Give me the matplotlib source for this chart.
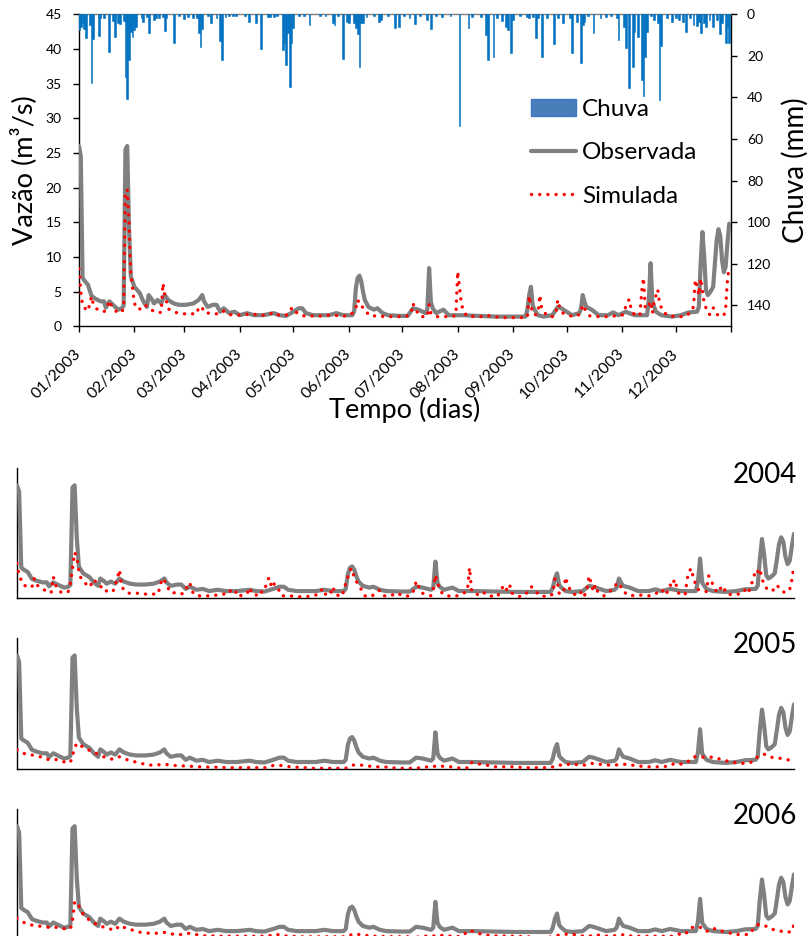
import matplotlib
matplotlib.use("Agg")
import matplotlib.pyplot as plt
from matplotlib.lines import Line2D
from matplotlib.patches import Patch
from matplotlib.transforms import ScaledTranslation

plt.rcParams['font.family'] = ['Lato', 'DejaVu Sans']

# ---------------- data ----------------
month_labels = ['01/2003', '02/2003', '03/2003', '04/2003', '05/2003', '06/2003',
                '07/2003', '08/2003', '09/2003', '10/2003', '11/2003', '12/2003']
month_start = [0, 31, 59, 90, 120, 151, 181, 212, 243, 273, 304, 334, 365]
year_labels = ['2004', '2005', '2006']

# daily rainfall (mm), day of year / depth
rain_day = [0, 1, 2, 3, 4, 6, 7, 8, 11, 12, 14, 17, 19, 20, 22, 23, 25, 26, 27, 28,
            29, 30, 31, 32, 35, 36, 38, 39, 42, 43, 45, 47, 48, 49, 53, 56, 59, 61, 64,
            66, 67, 68, 69, 72, 74, 77, 79, 80, 82, 84, 86, 88, 93, 95, 99, 102, 106,
            107, 109, 111, 114, 115, 116, 117, 118, 119, 120, 123, 126, 129, 135, 138,
            142, 143, 145, 148, 150, 151, 154, 155, 156, 157, 158, 159, 161, 165, 168,
            169, 173, 177, 179, 182, 185, 188, 191, 195, 197, 200, 203, 208, 213, 218,
            220, 225, 228, 229, 232, 234, 237, 239, 240, 242, 243, 247, 251, 252, 254,
            256, 257, 259, 262, 266, 268, 271, 275, 276, 279, 281, 282, 283, 285, 288,
            292, 295, 298, 301, 302, 305, 306, 308, 310, 311, 313, 315, 316, 317, 318,
            320, 322, 324, 325, 326, 329, 332, 334, 336, 338, 340, 342, 344, 346, 347,
            348, 350, 351, 353, 355, 357, 359, 360, 362, 363, 364]
rain_mm = [7.5, 6.0, 4.0, 7.2, 11.5, 5.0, 32.8, 12.0, 10.4, 2.0, 2.0, 18.2, 3.0, 10.7,
           4.3, 4.6, 3.0, 30.0, 40.5, 22.0, 8.3, 10.7, 7.5, 5.9, 2.0, 3.5, 1.5, 9.0,
           2.7, 2.0, 2.0, 1.5, 7.8, 2.0, 14.0, 1.0, 2.4, 1.1, 2.0, 2.0, 9.0, 15.5, 7.2,
           1.0, 4.0, 2.0, 13.0, 22.2, 1.5, 0.8, 0.8, 0.6, 0.8, 3.5, 4.0, 16.6, 1.5, 1.5,
           1.5, 0.8, 17.4, 13.9, 24.3, 9.0, 35.0, 13.9, 6.7, 0.8, 0.6, 5.1, 0.8, 0.6,
           4.3, 5.1, 1.0, 21.6, 3.5, 4.0, 4.3, 6.7, 9.4, 25.1, 4.0, 4.0, 1.5, 0.8, 3.5,
           2.7, 0.6, 6.7, 5.9, 0.8, 1.9, 4.6, 0.8, 2.7, 7.2, 0.8, 1.1, 0.8, 53.6, 6.7,
           1.1, 1.1, 9.9, 22.2, 20.3, 1.9, 3.0, 5.9, 7.5, 18.4, 2.7, 0.8, 1.1, 1.9, 1.5,
           11.5, 1.9, 20.3, 1.9, 14.2, 1.9, 4.3, 1.9, 18.4, 3.5, 23.2, 5.1, 3.5, 1.0,
           9.0, 1.9, 1.5, 0.8, 1.9, 12.3, 5.9, 16.3, 35.5, 25.1, 8.3, 10.7, 31.5, 39.5,
           20.6, 8.3, 1.0, 2.7, 4.3, 41.4, 15.2, 1.9, 3.5, 1.9, 2.7, 3.5, 8.3, 1.9, 5.1,
           5.6, 3.5, 8.8, 4.3, 6.2, 2.7, 5.9, 2.7, 9.4, 4.3, 13.9, 5.9, 13.6]

# observed discharge (m3/s)
obs_day = [0, 1, 2, 3, 5, 7, 9, 12, 14, 15, 17, 19, 22, 24, 25, 26, 27, 28, 29, 31, 34,
           36, 38, 39, 41, 42, 44, 46, 48, 50, 53, 56, 60, 64, 67, 69, 70, 72, 75, 77,
           79, 81, 84, 87, 90, 94, 98, 103, 109, 112, 116, 120, 123, 125, 127, 131,
           135, 140, 144, 148, 153, 154, 155, 156, 157, 158, 159, 160, 162, 165, 167,
           170, 173, 180, 184, 187, 190, 194, 195, 196, 197, 198, 200, 204, 207, 214,
           224, 233, 242, 250, 251, 252, 253, 254, 255, 257, 260, 265, 268, 270, 273,
           276, 280, 281, 282, 283, 284, 287, 291, 296, 299, 302, 306, 308, 311, 318,
           319, 320, 321, 323, 326, 332, 337, 341, 346, 347, 348, 349, 350, 351, 352,
           353, 354, 355, 356, 357, 358, 359, 360, 361, 362, 363, 364]
obs_val = [26.0, 24.5, 7.0, 6.6, 6.0, 4.4, 4.0, 3.6, 3.6, 2.7, 3.6, 3.1, 2.4, 2.6, 3.0,
           25.5, 26.0, 14.0, 7.2, 5.7, 4.8, 3.6, 2.8, 4.5, 3.8, 3.3, 3.8, 3.3, 4.5, 3.8,
           3.3, 3.1, 3.1, 3.3, 3.8, 4.5, 3.6, 2.8, 3.1, 3.1, 2.1, 2.6, 1.9, 2.1, 1.6, 1.9,
           1.6, 1.6, 1.9, 1.6, 1.5, 2.1, 2.6, 2.6, 1.9, 1.6, 1.6, 1.6, 1.9, 1.6, 1.6, 2.1,
           5.5, 7.0, 7.3, 6.5, 5.0, 3.8, 2.8, 2.4, 2.6, 1.9, 1.6, 1.5, 1.5, 2.6, 2.4, 1.9,
           2.4, 8.4, 3.5, 2.6, 1.9, 2.4, 1.6, 1.6, 1.5, 1.4, 1.4, 1.4, 2.4, 4.5, 5.7, 3.0,
           2.4, 1.6, 1.4, 1.6, 2.8, 2.6, 2.1, 1.6, 1.9, 2.5, 4.5, 3.5, 2.8, 2.4, 1.6, 1.6,
           2.0, 1.6, 2.1, 1.9, 1.6, 1.6, 3.8, 9.1, 3.5, 2.1, 1.6, 1.4, 1.6, 2.0, 2.1, 2.8,
           9.0, 13.6, 10.0, 5.2, 4.5, 4.8, 5.2, 5.7, 9.0, 12.5, 14.0, 13.0, 9.5, 7.8, 8.6,
           12.0, 14.8]

# simulated discharge (m3/s), one series per year
sim2003_day = [0, 1, 2, 3, 5, 7, 8, 10, 14, 16, 17, 18, 21, 24, 25, 26, 27, 28, 29, 30,
               31, 33, 35, 37, 39, 43, 46, 47, 48, 49, 50, 54, 58, 62, 66, 67, 69, 70,
               75, 79, 81, 84, 88, 93, 97, 101, 105, 109, 112, 116, 118, 120, 122, 126,
               131, 135, 139, 142, 147, 151, 153, 155, 156, 157, 158, 159, 160, 163,
               167, 171, 175, 179, 183, 186, 187, 188, 191, 195, 196, 197, 200, 205,
               209, 211, 212, 213, 214, 215, 217, 222, 226, 228, 232, 237, 241, 247,
               251, 252, 253, 255, 257, 258, 259, 262, 265, 267, 268, 269, 271, 275,
               279, 281, 282, 284, 286, 291, 295, 300, 304, 305, 306, 308, 309, 311,
               314, 315, 316, 317, 318, 320, 321, 322, 324, 325, 327, 330, 335, 339,
               342, 344, 345, 346, 347, 348, 350, 352, 353, 355, 357, 361, 362, 363, 364]
sim2003_val = [8.3, 5.0, 3.0, 2.7, 2.2, 4.3, 3.2, 2.5, 2.1, 2.8, 3.7, 3.1, 2.1, 2.0, 2.8,
               19.5, 19.7, 15.0, 7.5, 5.5, 3.3, 2.4, 2.6, 3.1, 2.6, 2.0, 2.0, 6.2, 4.5,
               3.6, 2.5, 2.0, 1.8, 1.8, 1.8, 2.8, 2.7, 2.0, 1.8, 1.8, 2.2, 1.7, 1.6, 1.7,
               1.8, 1.6, 1.6, 2.0, 1.6, 1.6, 2.4, 2.7, 1.9, 1.5, 1.5, 1.5, 1.6, 1.6, 1.5,
               1.5, 1.9, 2.6, 3.8, 3.3, 3.3, 2.5, 2.3, 1.5, 1.5, 1.4, 1.4, 1.4, 1.4, 1.9,
               3.3, 2.6, 1.4, 1.4, 3.1, 1.9, 1.4, 1.4, 1.4, 1.6, 7.9, 5.7, 3.3, 2.4, 1.5,
               1.4, 1.4, 1.6, 1.4, 1.25, 1.25, 1.25, 1.3, 4.4, 2.8, 1.6, 1.9, 4.5, 2.6,
               1.5, 1.4, 1.9, 3.8, 2.8, 1.9, 1.5, 1.5, 2.0, 3.1, 2.1, 1.5, 1.4, 1.4, 1.5,
               1.6, 1.9, 2.8, 3.9, 2.6, 1.6, 1.6, 5.0, 7.0, 2.6, 2.6, 3.6, 1.9, 3.6, 5.3,
               3.3, 2.1, 1.5, 1.4, 1.4, 1.9, 2.8, 6.7, 5.7, 4.5, 6.9, 3.3, 2.0, 1.7, 2.7,
               1.7, 1.5, 2.6, 6.7, 8.6]

sim2004_day = [0, 1, 3, 5, 7, 8, 9, 11, 13, 16, 17, 18, 20, 22, 24, 25, 26, 27, 28, 29,
               30, 32, 34, 36, 37, 39, 41, 42, 45, 47, 48, 49, 52, 55, 59, 62, 66, 67,
               68, 69, 70, 72, 74, 77, 79, 80, 81, 82, 84, 88, 92, 95, 97, 99, 100, 102,
               103, 105, 108, 109, 110, 114, 115, 116, 117, 118, 119, 120, 121, 123,
               124, 128, 131, 135, 139, 142, 143, 145, 147, 148, 149, 152, 153, 154,
               155, 156, 157, 158, 159, 161, 163, 166, 168, 170, 172, 175, 178, 181,
               184, 186, 187, 188, 190, 194, 195, 196, 197, 198, 200, 204, 208, 211,
               212, 213, 217, 219, 221, 225, 227, 228, 230, 231, 232, 235, 238, 241,
               242, 245, 249, 251, 252, 253, 254, 256, 257, 258, 260, 263, 265, 266,
               267, 268, 269, 270, 271, 272, 275, 277, 280, 281, 282, 284, 287, 291,
               296, 299, 302, 304, 306, 307, 308, 310, 313, 314, 315, 316, 317, 318,
               319, 321, 323, 324, 325, 326, 328, 330, 331, 332, 335, 338, 340, 342,
               343, 345, 346, 347, 348, 349, 350, 352, 354, 356, 358, 360, 361, 362,
               363, 364]
sim2004_val = [8.0, 5.2, 3.0, 2.6, 2.5, 4.5, 3.0, 2.6, 1.8, 1.2, 4.9, 3.0, 1.5, 1.1, 1.5,
               3.4, 6.8, 10.5, 9.5, 6.1, 4.5, 3.4, 2.5, 4.3, 3.6, 2.6, 2.6, 1.5, 1.5, 4.5,
               6.5, 2.5, 1.1, 1.2, 0.9, 0.9, 0.9, 2.6, 4.5, 4.2, 3.0, 1.2, 1.2, 0.9, 1.5,
               3.4, 3.4, 1.5, 0.5, 0.5, 0.5, 0.9, 0.9, 0.9, 1.7, 0.9, 1.7, 0.5, 1.2, 2.4,
               0.9, 0.5, 2.0, 2.0, 3.4, 4.7, 3.0, 3.9, 2.4, 1.7, 0.5, 0.5, 0.3, 0.3, 0.5,
               1.1, 2.2, 0.5, 1.2, 2.6, 0.9, 0.3, 1.5, 3.4, 4.9, 6.5, 6.8, 4.5, 3.8, 2.2,
               0.5, 0.3, 1.2, 1.8, 0.5, 0.5, 1.2, 0.4, 0.5, 1.8, 3.9, 2.8, 1.1, 0.5, 1.8,
               5.3, 3.5, 1.8, 0.7, 0.3, 0.7, 1.7, 7.0, 1.5, 0.5, 1.2, 0.5, 0.3, 2.0, 3.0,
               1.5, 2.8, 1.1, 0.3, 0.7, 2.6, 2.0, 0.5, 0.3, 0.9, 4.5, 4.0, 1.1, 1.1, 4.8,
               3.0, 1.1, 0.5, 1.8, 0.7, 2.2, 5.1, 3.4, 1.5, 3.0, 1.5, 0.5, 1.1, 2.6, 3.5,
               3.4, 1.5, 0.5, 0.7, 0.5, 0.9, 2.0, 0.7, 3.0, 2.6, 4.3, 1.1, 0.7, 4.5, 6.3,
               6.8, 4.0, 3.4, 2.0, 1.5, 1.5, 5.1, 4.5, 3.0, 1.2, 2.5, 2.8, 1.1, 0.7, 0.9,
               1.1, 2.5, 1.7, 4.5, 6.5, 6.1, 6.8, 4.5, 3.0, 1.7, 1.7, 3.0, 1.7, 1.2, 1.7,
               2.0, 4.2, 7.6]

sim2005_day = [0, 4, 7, 11, 14, 18, 21, 25, 26, 27, 28, 31, 35, 38, 41, 45, 48, 51, 54,
               58, 62, 65, 69, 72, 76, 80, 84, 87, 91, 95, 98, 102, 110, 117, 120, 124,
               128, 131, 135, 139, 150, 154, 157, 161, 164, 168, 172, 175, 179, 183,
               187, 190, 194, 197, 201, 204, 208, 212, 213, 217, 221, 224, 232, 235,
               239, 250, 253, 257, 260, 263, 267, 269, 273, 276, 280, 284, 288, 291,
               295, 302, 306, 308, 312, 315, 317, 321, 324, 327, 330, 334, 338, 342,
               345, 347, 350, 353, 357, 361, 364]
sim2005_val = [4.4, 3.4, 3.2, 2.8, 2.2, 2.2, 1.7, 1.5, 3.0, 4.8, 5.9, 5.0, 4.0, 3.4, 2.7,
               2.2, 2.8, 2.2, 1.8, 1.3, 0.9, 0.9, 1.1, 0.9, 0.7, 0.7, 0.5, 0.5, 0.4, 0.4,
               0.3, 0.3, 0.3, 0.3, 0.8, 0.8, 0.5, 0.4, 0.3, 0.15, 0.15, 0.15, 0.9, 0.9,
               0.7, 0.5, 0.5, 0.3, 0.15, 0.15, 0.1, 0.5, 0.4, 0.8, 0.5, 0.5, 0.15, 0.3,
               1.5, 1.1, 0.8, 0.5, 0.5, 0.4, 0.3, 0.3, 0.9, 0.9, 1.3, 0.9, 0.9, 1.3, 1.1,
               0.9, 0.9, 1.1, 0.9, 0.7, 0.5, 0.5, 0.7, 1.3, 1.1, 1.9, 2.8, 2.7, 2.7, 2.7,
               2.1, 1.7, 1.3, 1.3, 1.7, 2.8, 3.4, 2.7, 2.5, 2.1, 2.1]

sim2006_day = [0, 4, 7, 10, 14, 17, 21, 25, 26, 27, 29, 31, 33, 36, 39, 42, 46, 48, 51,
               55, 58, 62, 66, 69, 73, 77, 80, 84, 88, 91, 95, 114, 118, 121, 125, 129,
               132, 155, 157, 161, 165, 168, 176, 183, 187, 190, 194, 197, 201, 208,
               212, 216, 219, 223, 234, 238, 249, 252, 255, 258, 260, 264, 268, 271,
               274, 278, 285, 288, 307, 310, 313, 315, 317, 320, 323, 326, 329, 333,
               336, 343, 345, 347, 350, 353, 357, 360, 363, 364]
sim2006_val = [4.6, 3.4, 3.0, 2.8, 2.5, 2.6, 2.2, 2.1, 4.0, 8.5, 7.5, 5.5, 4.5, 3.5, 2.8,
               2.3, 1.8, 2.9, 2.3, 1.7, 1.3, 1.1, 1.1, 1.3, 0.9, 0.8, 1.1, 0.8, 0.5, 0.5,
               0.4, 0.4, 0.5, 0.9, 0.5, 0.4, 0.3, 0.3, 0.9, 0.8, 0.5, 0.4, 0.3, 0.3, 0.15,
               0.5, 0.3, 0.7, 0.5, 0.3, 1.8, 1.1, 0.7, 0.5, 0.4, 0.3, 0.15, 0.5, 0.8, 0.9,
               0.9, 0.5, 0.4, 0.8, 0.5, 0.4, 0.8, 0.4, 0.4, 0.9, 0.8, 2.1, 2.6, 2.5, 1.5,
               2.3, 1.7, 1.3, 0.8, 0.8, 2.1, 3.1, 3.0, 2.1, 1.7, 1.3, 1.5, 3.2]

# ---------------- styles ----------------
OBS_COLOR = '#808080'
SIM_COLOR = '#ff0000'
RAIN_COLOR = '#0070c0'
obs_kw = dict(color=OBS_COLOR, lw=3.0, solid_joinstyle='round', solid_capstyle='round')
sim_kw = dict(color=SIM_COLOR, lw=2.4, linestyle=(0, (0.05, 2.4)),
              dash_capstyle='round')

W, H = 810, 936
fig = plt.figure(figsize=(W / 100, H / 100), dpi=100)


def px_box(x0, y0, x1, y1):
    return [x0 / W, 1 - y1 / H, (x1 - x0) / W, (y1 - y0) / H]


# ---------------- main panel (2003) ----------------
ax = fig.add_axes(px_box(79, 14.3, 731, 326.3))
ax.plot(obs_day, obs_val, zorder=3, **obs_kw)
ax.plot(sim2003_day, sim2003_val, zorder=4, **sim_kw)
ax.set_xlim(0, 365)
ax.set_ylim(0, 45)
ax.set_yticks(range(0, 46, 5))
ax.set_xticks(month_start)
ax.set_xticklabels(month_labels + [''], rotation=45, ha='right', va='center',
                   rotation_mode='anchor', fontsize=11.5)
for lab in ax.get_xticklabels():
    lab.set_transform(lab.get_transform() + ScaledTranslation(2 / 100, 0, fig.dpi_scale_trans))
ax.tick_params(axis='x', direction='out', length=4, width=1, pad=14, colors='black')
ax.tick_params(axis='y', direction='out', length=4, width=1, pad=8.5,
               labelsize=10, colors='black')
ax.set_ylabel('Vazão (m³/s)', fontsize=19.5, labelpad=6)
ax.set_xlabel('Tempo (dias)', fontsize=19.5, labelpad=-3)
for s in ('left', 'bottom', 'right'):
    ax.spines[s].set_color('black')
    ax.spines[s].set_linewidth(1.0)
ax.spines['top'].set_color('#7f7f7f')
ax.spines['top'].set_linewidth(1.0)

ax2 = ax.twinx()
ax2.bar(rain_day, rain_mm, width=1.0, color=RAIN_COLOR, edgecolor=RAIN_COLOR,
        linewidth=0.4, zorder=2)
ax2.set_ylim(150, 0)
ax2.set_yticks(range(0, 141, 20))
ax2.tick_params(axis='y', direction='out', length=4, width=1, pad=7.5,
                labelsize=10, colors='black')
ax2.set_ylabel('Chuva (mm)', fontsize=20, labelpad=8)
for s in ax2.spines.values():
    s.set_visible(False)
ax2.set_xlim(0, 365)

handles = [Patch(facecolor='#4a7ebb', edgecolor='#3f78c2', linewidth=1),
           Line2D([], [], **obs_kw),
           Line2D([], [], **sim_kw)]
fig.legend(handles, ['Chuva', 'Observada', 'Simulada'], loc='upper left',
           bbox_to_anchor=(531 / W, 1 - 99 / H), bbox_transform=fig.transFigure,
           frameon=False, fontsize=17.5, handlelength=1.85, handleheight=0.65,
           handletextpad=0.25, labelspacing=0.92, borderpad=0, borderaxespad=0)

# ---------------- lower panels (2004-2006) ----------------
sims = [(sim2004_day, sim2004_val), (sim2005_day, sim2005_val), (sim2006_day, sim2006_val)]
boxes = [(468, 598), (638, 769), (809, 938)]
for (sd, sv), (top, bot), year in zip(sims, boxes, year_labels):
    axl = fig.add_axes(px_box(17, top, 794, bot))
    axl.plot(obs_day, obs_val, zorder=3, **obs_kw)
    axl.plot(sd, sv, zorder=4, **sim_kw)
    axl.set_xlim(0, 364)
    axl.set_ylim(0, 30)
    axl.set_xticks([])
    axl.set_yticks([])
    for s in ('top', 'right'):
        axl.spines[s].set_visible(False)
    for s in ('left', 'bottom'):
        axl.spines[s].set_color('black')
        axl.spines[s].set_linewidth(1.0)
    fig.text(797 / W, 1 - (top + 7) / H, year, ha='right', va='center',
             fontsize=20, color='black')

fig.savefig('out.png', dpi=100)
